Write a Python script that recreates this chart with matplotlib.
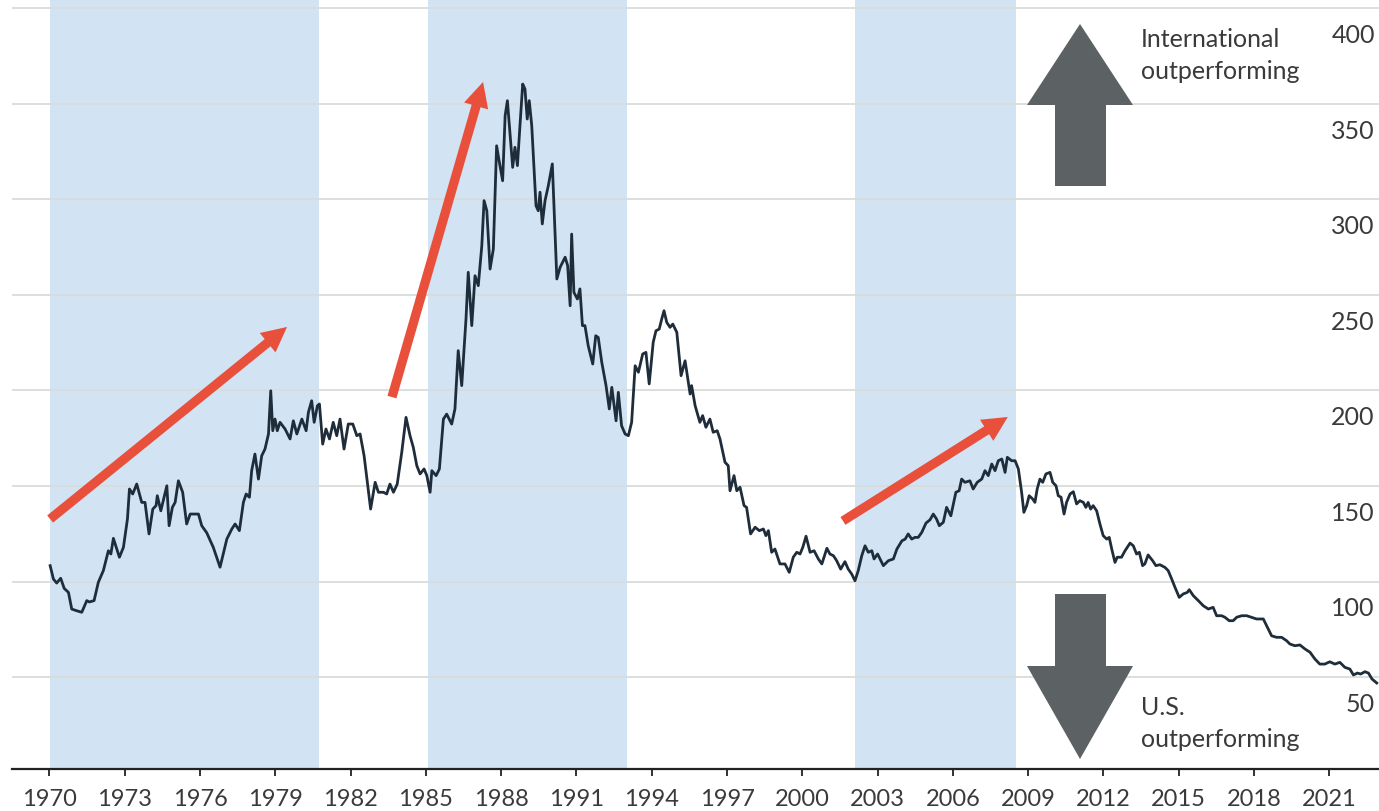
import matplotlib
matplotlib.use("Agg")
import matplotlib.pyplot as plt
from matplotlib.patches import FancyArrowPatch, Polygon
import matplotlib.transforms as mtransforms

plt.rcParams['font.family'] = ['Lato', 'DejaVu Sans']

# relative performance index (international vs. U.S.)
years = [
    1970.03, 1970.16, 1970.29, 1970.45, 1970.59, 1970.76, 1970.89, 1971.09, 1971.29, 1971.49,
    1971.59, 1971.78, 1971.95, 1972.15, 1972.35, 1972.45, 1972.55, 1972.79, 1972.95, 1973.11,
    1973.19, 1973.32, 1973.48, 1973.68, 1973.81, 1973.97, 1974.12, 1974.25, 1974.30, 1974.44,
    1974.57, 1974.68, 1974.77, 1974.90, 1975.01, 1975.14, 1975.31, 1975.47, 1975.61, 1975.94,
    1976.07, 1976.27, 1976.53, 1976.80, 1977.07, 1977.27, 1977.40, 1977.57, 1977.73, 1977.84,
    1977.97, 1978.06, 1978.19, 1978.33, 1978.46, 1978.59, 1978.73, 1978.82, 1978.90, 1978.99,
    1979.08, 1979.19, 1979.39, 1979.59, 1979.72, 1979.86, 1980.06, 1980.23, 1980.32, 1980.45,
    1980.55, 1980.68, 1980.76, 1980.89, 1981.02, 1981.16, 1981.31, 1981.45, 1981.58, 1981.74,
    1981.91, 1982.09, 1982.25, 1982.38, 1982.54, 1982.67, 1982.80, 1982.98, 1983.11, 1983.31,
    1983.44, 1983.57, 1983.71, 1983.86, 1984.04, 1984.21, 1984.37, 1984.50, 1984.64, 1984.77,
    1984.93, 1985.04, 1985.17, 1985.24, 1985.41, 1985.54, 1985.70, 1985.83, 1986.03, 1986.16,
    1986.29, 1986.43, 1986.60, 1986.69, 1986.83, 1986.96, 1987.09, 1987.23, 1987.32, 1987.43,
    1987.56, 1987.69, 1987.82, 1987.93, 1988.06, 1988.16, 1988.25, 1988.46, 1988.55, 1988.65,
    1988.75, 1988.86, 1988.95, 1989.04, 1989.12, 1989.22, 1989.39, 1989.48, 1989.55, 1989.64,
    1989.75, 1989.88, 1990.04, 1990.22, 1990.35, 1990.55, 1990.65, 1990.75, 1990.81, 1990.90,
    1991.04, 1991.14, 1991.24, 1991.34, 1991.47, 1991.65, 1991.77, 1991.87, 1992.01, 1992.18,
    1992.31, 1992.41, 1992.58, 1992.67, 1992.80, 1992.94, 1993.07, 1993.20, 1993.34, 1993.47,
    1993.64, 1993.77, 1993.90, 1994.06, 1994.17, 1994.30, 1994.40, 1994.49, 1994.60, 1994.73,
    1994.84, 1995.00, 1995.17, 1995.33, 1995.53, 1995.59, 1995.73, 1995.92, 1996.03, 1996.16,
    1996.32, 1996.45, 1996.61, 1996.72, 1996.92, 1997.05, 1997.12, 1997.28, 1997.39, 1997.52,
    1997.68, 1997.78, 1997.94, 1998.12, 1998.29, 1998.45, 1998.55, 1998.65, 1998.78, 1998.91,
    1999.11, 1999.31, 1999.48, 1999.64, 1999.78, 1999.91, 2000.02, 2000.15, 2000.31, 2000.47,
    2000.64, 2000.78, 2000.98, 2001.10, 2001.24, 2001.37, 2001.53, 2001.70, 2001.83, 2001.97,
    2002.10, 2002.23, 2002.37, 2002.50, 2002.63, 2002.77, 2002.86, 2003.00, 2003.10, 2003.23,
    2003.43, 2003.63, 2003.77, 2003.97, 2004.10, 2004.22, 2004.36, 2004.49, 2004.62, 2004.76,
    2004.93, 2005.09, 2005.22, 2005.35, 2005.46, 2005.62, 2005.75, 2005.92, 2006.02, 2006.12,
    2006.25, 2006.35, 2006.48, 2006.68, 2006.81, 2006.97, 2007.15, 2007.28, 2007.41, 2007.55,
    2007.68, 2007.81, 2007.95, 2008.08, 2008.17, 2008.34, 2008.48, 2008.61, 2008.74, 2008.83,
    2008.94, 2009.04, 2009.18, 2009.27, 2009.36, 2009.47, 2009.58, 2009.71, 2009.87, 2009.98,
    2010.11, 2010.20, 2010.31, 2010.43, 2010.53, 2010.67, 2010.80, 2010.93, 2011.06, 2011.20,
    2011.30, 2011.39, 2011.49, 2011.59, 2011.73, 2011.86, 2011.99, 2012.13, 2012.23, 2012.33,
    2012.46, 2012.55, 2012.72, 2012.86, 2013.06, 2013.19, 2013.32, 2013.43, 2013.56, 2013.65,
    2013.78, 2013.96, 2014.09, 2014.25, 2014.45, 2014.58, 2014.72, 2014.85, 2015.02, 2015.18,
    2015.34, 2015.42, 2015.58, 2015.78, 2015.98, 2016.18, 2016.37, 2016.51, 2016.71, 2016.84,
    2017.01, 2017.17, 2017.31, 2017.51, 2017.71, 2017.90, 2018.10, 2018.37, 2018.50, 2018.70,
    2018.90, 2019.10, 2019.30, 2019.43, 2019.63, 2019.83, 2020.03, 2020.23, 2020.43, 2020.62,
    2020.82, 2021.02, 2021.22, 2021.42, 2021.62, 2021.82, 2021.96, 2022.12, 2022.25, 2022.42,
    2022.56, 2022.70, 2022.89,
]
values = [
    108.3, 101.3, 99.2, 101.7, 96.4, 94.3, 85.6, 84.7, 83.9, 90.0,
    89.3, 90.0, 99.6, 105.7, 116.1, 114.4, 122.6, 112.7, 117.9, 132.7,
    148.4, 145.8, 151.0, 141.4, 141.4, 124.9, 137.9, 139.7, 144.9, 137.0,
    144.1, 150.1, 129.2, 138.8, 141.4, 152.7, 146.7, 130.1, 135.3, 135.3,
    129.2, 125.5, 117.9, 107.5, 122.2, 127.5, 130.1, 126.6, 141.4, 145.8,
    144.1, 158.0, 166.7, 153.6, 165.8, 169.3, 177.2, 199.8, 178.9, 185.0,
    178.9, 183.3, 179.8, 174.6, 184.1, 177.2, 185.0, 178.9, 188.5, 194.6,
    183.3, 192.0, 192.9, 171.9, 179.8, 174.6, 183.3, 176.3, 185.0, 169.3,
    182.4, 182.4, 176.3, 177.2, 165.8, 151.9, 137.9, 151.9, 146.7, 146.7,
    145.8, 151.0, 146.7, 151.0, 167.6, 185.9, 176.3, 170.2, 160.6, 156.3,
    158.9, 155.4, 146.7, 158.0, 155.4, 158.9, 185.0, 187.6, 182.4, 190.3,
    220.8, 202.5, 237.4, 261.8, 233.9, 260.0, 254.8, 275.7, 299.3, 294.0,
    263.5, 274.0, 328.0, 319.4, 309.7, 343.8, 351.6, 316.7, 327.2, 317.6,
    338.5, 360.3, 357.7, 342.0, 351.6, 338.5, 296.6, 294.0, 303.7, 287.1,
    299.3, 307.1, 318.5, 258.3, 264.4, 269.7, 265.3, 244.3, 281.8, 251.3,
    247.8, 253.1, 233.9, 233.9, 223.4, 213.8, 228.6, 227.7, 214.7, 202.5,
    190.3, 201.6, 184.1, 199.0, 181.5, 177.2, 176.3, 183.3, 212.9, 209.5,
    219.0, 219.9, 203.4, 225.2, 231.2, 232.1, 237.4, 241.7, 235.6, 233.0,
    234.7, 230.4, 207.7, 215.5, 198.1, 202.5, 192.0, 183.3, 186.8, 180.7,
    185.0, 178.1, 178.9, 174.6, 162.4, 160.6, 147.5, 155.4, 147.5, 149.3,
    139.7, 138.8, 124.9, 128.4, 126.6, 127.5, 124.0, 126.6, 115.3, 117.0,
    109.2, 109.2, 104.8, 112.7, 115.3, 114.4, 117.9, 123.7, 115.3, 116.1,
    111.8, 109.2, 117.4, 114.4, 113.5, 110.9, 106.5, 110.4, 106.5, 103.9,
    100.4, 105.7, 113.5, 118.7, 115.3, 116.1, 111.8, 114.4, 111.8, 108.3,
    110.9, 111.8, 117.0, 121.3, 122.2, 124.9, 122.2, 123.1, 123.1, 125.7,
    130.6, 132.3, 135.3, 132.7, 129.2, 131.0, 138.8, 134.4, 140.6, 146.7,
    147.5, 153.6, 151.9, 152.7, 148.4, 151.9, 153.6, 158.0, 155.4, 161.5,
    158.0, 163.2, 164.1, 157.1, 165.0, 163.2, 163.2, 158.9, 146.7, 136.2,
    139.7, 144.9, 143.2, 141.4, 148.4, 153.6, 151.9, 156.3, 157.1, 151.9,
    150.1, 144.9, 144.1, 135.3, 141.4, 145.8, 147.0, 140.6, 142.3, 141.4,
    138.8, 141.4, 137.9, 139.7, 137.0, 130.1, 124.0, 122.2, 123.1, 117.0,
    110.0, 112.7, 112.7, 116.1, 120.1, 118.7, 114.4, 115.3, 108.3, 109.2,
    113.9, 110.9, 108.3, 108.8, 107.4, 105.7, 101.3, 97.0, 91.7, 93.5,
    94.3, 95.7, 92.6, 90.0, 87.3, 85.6, 86.5, 82.1, 82.1, 81.3,
    79.5, 79.5, 81.3, 82.1, 82.1, 81.3, 80.4, 80.4, 76.9, 71.6,
    70.8, 70.8, 69.0, 67.3, 66.4, 66.8, 64.7, 63.0, 59.4, 56.8,
    56.8, 58.0, 56.8, 57.7, 55.1, 54.2, 51.1, 52.1, 51.6, 52.8,
    52.1, 49.0, 46.9,
]

# shaded periods of international outperformance
shade_starts = [1970.03, 1985.09, 2002.09]
shade_ends = [1980.74, 1993.02, 2008.50]

ytick_vals = [50, 100, 150, 200, 250, 300, 350, 400]
xtick_years = list(range(1970, 2022, 3))

# red trend arrows: (start year, start value, end year, end value)
trend_arrows = [
    (1970.03, 132.7, 1979.47, 233.2),
    (1983.65, 196.5, 1987.28, 361.4),
    (2001.62, 131.7, 2008.19, 186.1),
]

text_color = '#3a3a3a'

fig = plt.figure(figsize=(13.79, 8.12), dpi=100)
ax = fig.add_axes([12 / 1379, 42 / 812, 1 - 12 / 1379, 1 - 42 / 812])

for s, e in zip(shade_starts, shade_ends):
    ax.axvspan(s, e, color='#d2e3f4', lw=0, zorder=0)

ax.plot(years, values, color='#1f2d3a', lw=2.0, zorder=3)

ax.set_xlim(1968.51, 2022.98)
ax.set_ylim(1.9, 404.8)

ax.set_yticks(ytick_vals)
ax.yaxis.grid(True, color='#d9ddd9', lw=1.3, zorder=1)
ax.tick_params(axis='y', length=0, labelleft=False, labelright=False)
ax.set_axisbelow(True)

ytrans = mtransforms.blended_transform_factory(ax.transAxes, ax.transData)
for v in ytick_vals:
    ax.annotate(str(v), xy=(1.0, v), xycoords=ytrans, xytext=(-3, -19),
                textcoords='offset points', ha='right', va='center',
                fontsize=18, color=text_color)

ax.set_xticks(xtick_years)
ax.set_xticklabels([str(y) for y in xtick_years])
ax.tick_params(axis='x', direction='out', length=5, width=1.3, color='#222222',
               labelsize=17, labelcolor=text_color, pad=9)

for side in ['top', 'right', 'left']:
    ax.spines[side].set_visible(False)
ax.spines['bottom'].set_color('#222222')
ax.spines['bottom'].set_linewidth(1.6)

for x0, y0, x1, y1 in trend_arrows:
    arr = FancyArrowPatch((x0, y0), (x1, y1),
                          arrowstyle='simple,head_length=1.0,head_width=1.0,tail_width=0.37',
                          mutation_scale=18, color='#e9503c', lw=0, zorder=4,
                          shrinkA=0, shrinkB=0)
    ax.add_patch(arr)

# grey direction arrows, in axes fraction
def to_axes(px, py):
    return ((px - 12) / (1379 - 12), (770 - py) / 770)

up_pts = [(1080, 25), (1133, 106), (1106, 106), (1106, 187),
          (1055, 187), (1055, 106), (1027, 106)]
down_pts = [(1055, 595), (1106, 595), (1106, 667), (1133, 667),
            (1080, 760), (1027, 667), (1055, 667)]
for pts in [up_pts, down_pts]:
    poly = Polygon([to_axes(px, py) for px, py in pts], closed=True,
                   transform=ax.transAxes, color='#5c6163', lw=0, zorder=5)
    ax.add_patch(poly)

tx, ty = to_axes(1141, 28)
ax.text(tx, ty, 'International\noutperforming', transform=ax.transAxes,
        ha='left', va='top', fontsize=18, color=text_color, linespacing=1.45)
tx, ty = to_axes(1141, 696)
ax.text(tx, ty, 'U.S.\noutperforming', transform=ax.transAxes,
        ha='left', va='top', fontsize=18, color=text_color, linespacing=1.45)

fig.savefig('out.png', dpi=100)
